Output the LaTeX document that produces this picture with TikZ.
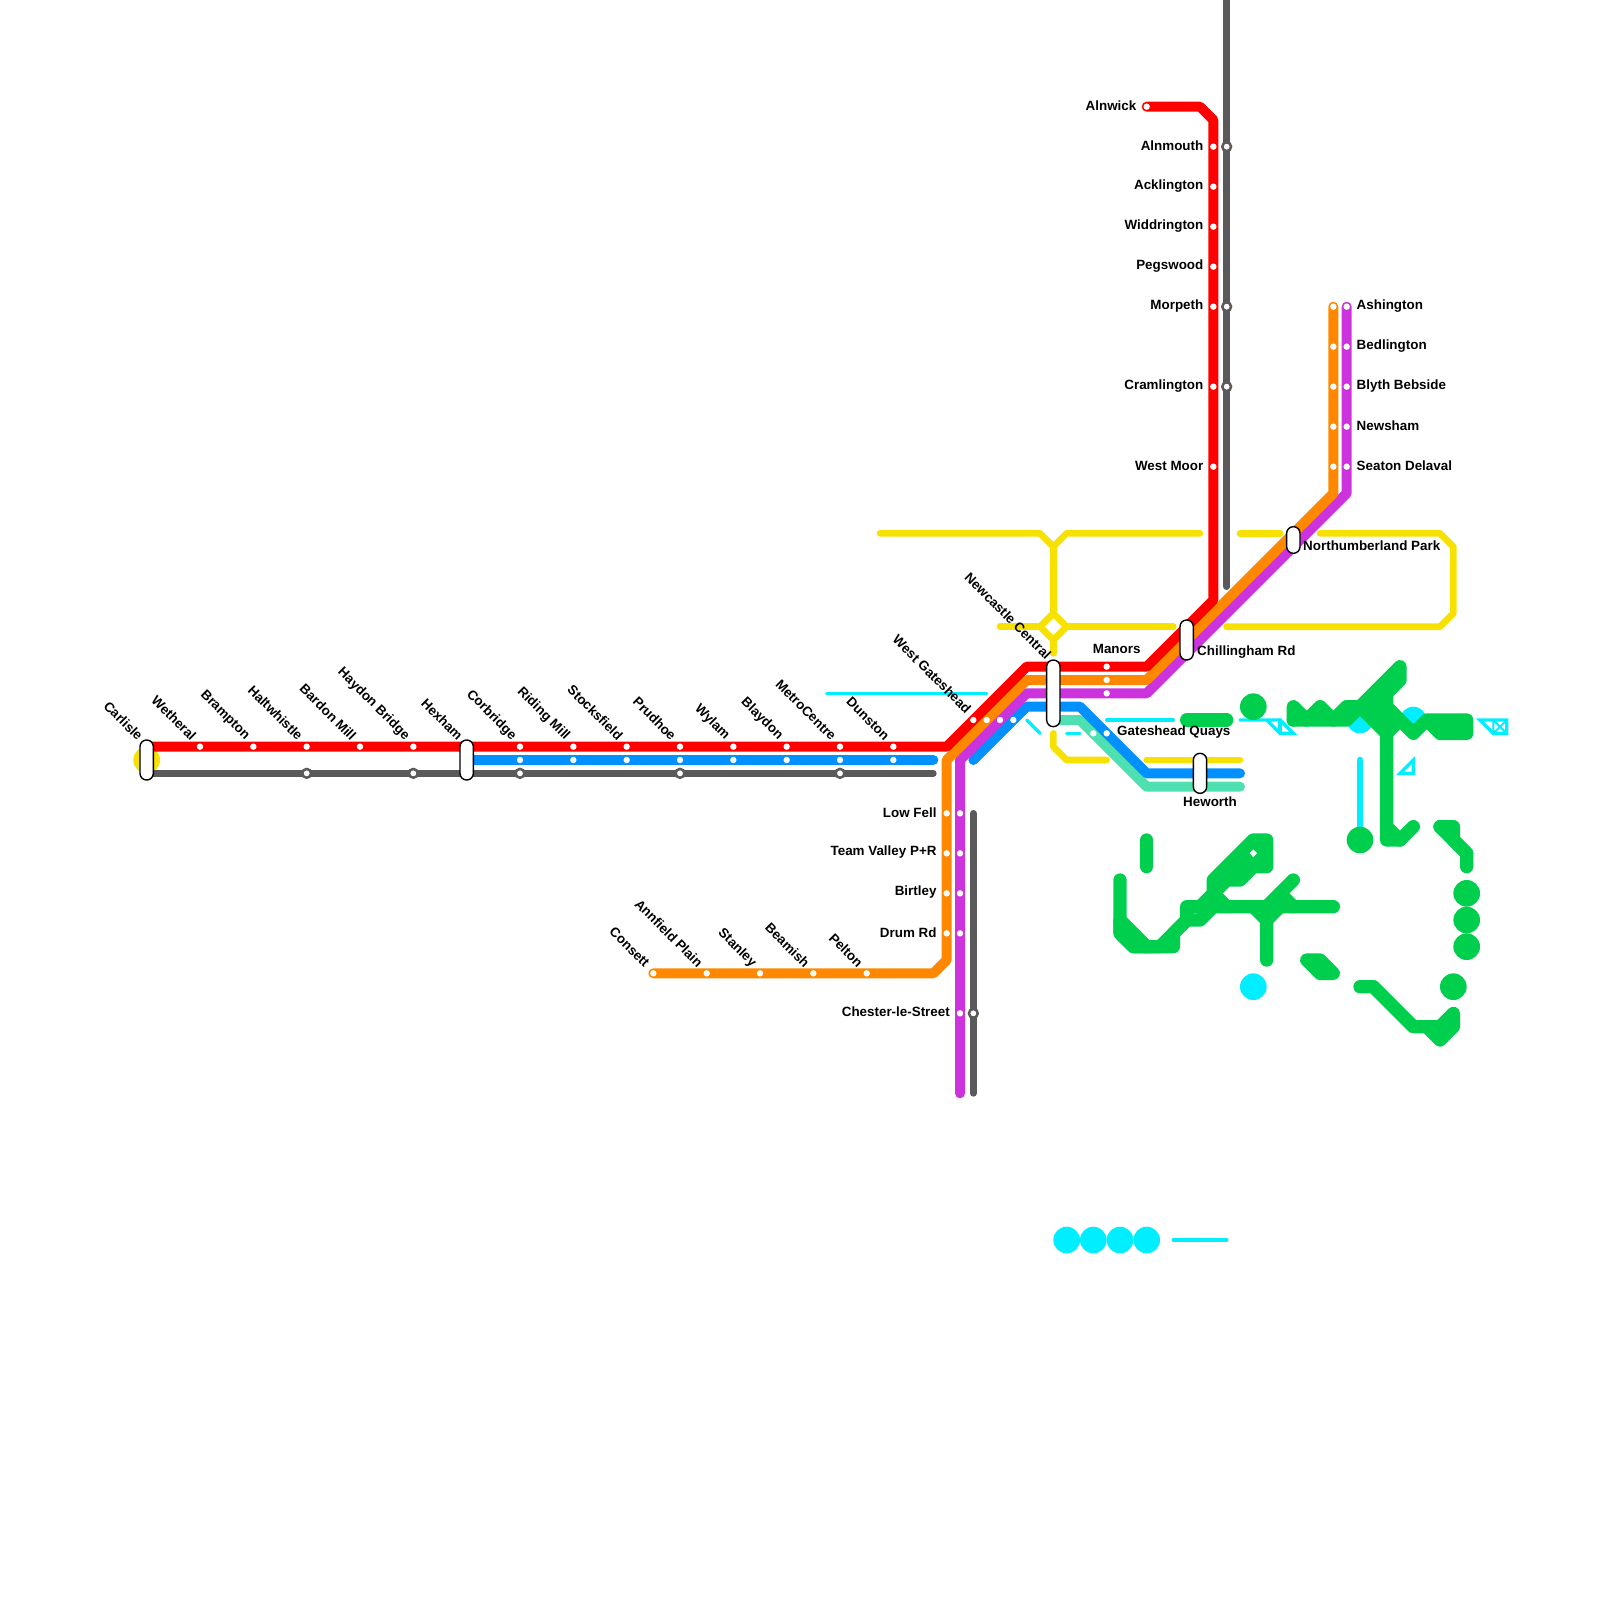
\documentclass[tikz,border=0pt]{standalone}
\usepackage{fontspec}
\setmainfont{Liberation Sans}
\tikzset{
  x=1pt,y=-1pt,
  ln/.style={line cap=round,line join=round,line width=10pt},
  tn/.style={line cap=round,line join=round,line width=6.67pt},
  hair/.style={cyanc,line cap=round,line join=miter,line width=3.33pt},
  gr/.style={greenc,line cap=round,line join=round,line width=13.33pt},
  dotw/.style={circle,fill=white,inner sep=0pt,minimum size=6.4pt},
  dotg/.style={circle,fill=white,draw=greyc,line width=2.5pt,inner sep=0pt,minimum size=8.8pt},
  pill/.style={draw=black,line width=1.4pt,fill=white,rounded corners=6.6pt},
  lab/.style={font=\fontsize{13.4}{15}\selectfont\bfseries,inner sep=0pt,text=black},
  rlab/.style={lab,anchor=east,rotate=-45},
  elab/.style={lab,anchor=east},
  wlab/.style={lab,anchor=west},
  blob/.style={circle,inner sep=0pt,minimum size=26.67pt},
}
\definecolor{redc}{HTML}{FF0000}
\definecolor{orangec}{HTML}{FF8800}
\definecolor{purplec}{HTML}{CC33DD}
\definecolor{bluec}{HTML}{0090FF}
\definecolor{greyc}{HTML}{5A5A5A}
\definecolor{yellowc}{HTML}{F7E100}
\definecolor{tealc}{HTML}{4FE0B2}
\definecolor{cyanc}{HTML}{00EEFF}
\definecolor{greenc}{HTML}{00CF4E}
\begin{document}
\begin{tikzpicture}
\useasboundingbox (0,0) rectangle (1600,1600);
% yellow
\node[blob,fill=yellowc] (ycirc) at (146.67,760) {};
\begin{scope}[tn,yellowc]
\draw (880,533.33) -- (1040,533.33) -- (1053.33,546.67) -- (1066.67,533.33) -- (1200,533.33);
\draw (1053.33,546.67) -- (1053.33,613.33);
\draw (1053.33,613.33) -- (1066.67,626.67) -- (1053.33,640) -- (1040,626.67) -- cycle;
\draw (1053.33,640) -- (1053.33,653.33);
\draw (1000,626.67) -- (1040,626.67);
\draw (1066.67,626.67) -- (1173.33,626.67);
\draw (1226.67,626.67) -- (1440,626.67) -- (1453.33,613.33) -- (1453.33,546.67) -- (1440,533.33) -- (1320,533.33);
\draw (1240,533.33) -- (1280,533.33);
\draw (1053.33,733.33) -- (1053.33,746.67) -- (1066.67,760) -- (1106.67,760);
\draw (1146.67,760) -- (1240,760);
\end{scope}
% cyan
\begin{scope}
\draw[hair] (826.67,693.33) -- (986.67,693.33);
\draw[hair] (1026.67,720) -- (1040,733.33);
\draw[hair] (1066.67,733.33) -- (1080,733.33);
\draw[hair] (1106.67,720) -- (1173.33,720);
\draw[hair] (1240,720) -- (1280,720) -- (1293.33,733.33) -- (1280,733.33) -- (1266.67,720);
\draw[hair] (1280,720) -- (1280,733.33);
\draw[hair] (1480,720) -- (1506.67,720) -- (1506.67,733.33) -- (1493.33,733.33) -- cycle;
\draw[hair,line width=2pt] (1493.33,720) -- (1493.33,733.33) (1493.33,720) -- (1506.67,733.33) (1506.67,720) -- (1493.33,733.33);
\draw[hair] (1413.33,760) -- (1413.33,773.33) -- (1400,773.33) -- cycle;
\draw[hair,line width=6.67pt] (1360,760) -- (1360,840);
\draw[hair] (1173.33,1240) -- (1226.67,1240);
\foreach \p [count=\i] in {(1360,720),(1413.33,720),(1253.33,986.67),(1066.67,1240),(1093.33,1240),(1120,1240),(1146.67,1240)}
  \node[blob,fill=cyanc] (cy\i) at \p {};
\end{scope}
% green
\foreach \p [count=\i] in {(1253.33,706.67),(1360,840),(1466.67,893.33),(1466.67,920),(1466.67,946.67),(1453.33,986.67)}
  \node[blob,fill=greenc] (gn\i) at \p {};
\begin{scope}
\draw[gr] (1186.67,720) -- (1226.67,720);
% upper right cluster
\draw[gr] (1293.33,720) -- (1293.33,706.67) -- (1306.67,720) -- (1320,706.67) -- (1333.33,720) -- (1346.67,706.67) -- (1360,706.67) -- (1400,666.67) -- (1400,680) -- (1386.67,693.33) -- (1386.67,840) -- (1400,840) -- (1413.33,826.67);
\draw[gr] (1386.67,826.67) -- (1400,840);
\draw[gr] (1293.33,720) -- (1346.67,720) -- (1360,706.67) -- (1386.67,733.33);
\fill[greenc] (1360,706.67) -- (1400,666.67) -- (1400,680) -- (1386.67,693.33) -- (1386.67,733.33) -- cycle;
\draw[gr] (1386.67,706.67) -- (1413.33,733.33) -- (1426.67,720) -- (1466.67,720) -- (1466.67,733.33) -- (1440,733.33) -- (1426.67,720);
\draw[gr] (1386.67,733.33) -- (1400,720);
\end{scope}
\begin{scope}
\draw[gr] (1146.67,840) -- (1146.67,866.67);
\draw[gr] (1120,880) -- (1120,933.33) -- (1133.33,946.67) -- (1173.33,946.67) -- (1173.33,933.33) -- (1186.67,920) -- (1186.67,906.67) -- (1333.33,906.67);
\draw[gr] (1120,920) -- (1146.67,946.67) -- (1160,946.67) -- (1186.67,920) -- (1200,920) -- (1213.33,906.67);
\fill[greenc] (1113.33,920) -- (1126.67,920) -- (1146.67,940) -- (1146.67,953.33) -- (1133.33,953.33) -- (1113.33,933.33) -- cycle;
\draw[gr] (1213.33,893.33) -- (1213.33,880) -- (1253.33,840) -- (1266.67,840) -- (1266.67,866.67) -- (1253.33,866.67) -- (1240,880) -- (1226.67,880) -- (1200,906.67);
\fill[greenc] (1213.33,880) -- (1253.33,840) -- (1266.67,866.67) -- (1240,880) -- cycle;
\fill[greenc] (1253.33,840) -- (1266.67,840) -- (1266.67,866.67) -- (1253.33,866.67) -- cycle;
\draw[gr] (1213.33,893.33) -- (1226.67,906.67);
\draw[gr] (1293.33,880) -- (1266.67,906.67) -- (1266.67,960);
\draw[gr] (1280,893.33) -- (1293.33,906.67);
\draw[gr] (1253.33,906.67) -- (1266.67,920) -- (1280,906.67);
\draw[gr] (1306.67,960) -- (1320,960) -- (1333.33,973.33) -- (1320,973.33) -- cycle;
\fill[greenc] (1306.67,960) -- (1320,960) -- (1333.33,973.33) -- (1320,973.33) -- cycle;
\draw[gr] (1360,986.67) -- (1373.33,986.67) -- (1413.33,1026.67) -- (1440,1026.67) -- (1453.33,1013.33) -- (1453.33,1026.67) -- (1440,1040) -- (1426.67,1026.67);
\draw[gr] (1440,826.67) -- (1453.33,826.67) -- (1453.33,840) -- (1466.67,853.33) -- (1466.67,866.67);
\draw[gr] (1440,826.67) -- (1466.67,853.33);
\fill[white] (1253.33,849.6) -- (1257.1,853.33) -- (1253.33,857.1) -- (1249.6,853.33) -- cycle;
\end{scope}
% main lines
\draw[tn,greyc] (1226.67,-10) -- (1226.67,586.67);
\draw[tn,greyc] (146.67,773.33) -- (933.33,773.33);
\draw[tn,greyc] (973.33,813.33) -- (973.33,1093.33);
\draw[ln,bluec] (466.67,760) -- (933.33,760);
\draw[ln,tealc] (1053.33,720) -- (1080,720) -- (1146.67,786.67) -- (1240,786.67);
\draw[ln,bluec] (973.33,760) -- (1026.67,706.67) -- (1080,706.67) -- (1146.67,773.33) -- (1240,773.33);
\draw[ln,purplec] (1346.67,306.67) -- (1346.67,493.33) -- (1146.67,693.33) -- (1026.67,693.33) -- (960,760) -- (960,1093.33);
\draw[ln,orangec] (1333.33,306.67) -- (1333.33,493.33) -- (1146.67,680) -- (1026.67,680) -- (946.67,760) -- (946.67,960) -- (933.33,973.33) -- (653.33,973.33);
\draw[ln,redc] (146.67,746.67) -- (946.67,746.67) -- (1026.67,666.67) -- (1146.67,666.67) -- (1213.33,600) -- (1213.33,120) -- (1200,106.67) -- (1146.67,106.67);
% stops
\foreach \x [count=\i] in {200,253.33,306.67,360,413.33,520,573.33,626.67,680,733.33,786.67,840,893.33}
  \node[dotw] (sr\i) at (\x,746.67) {};
\foreach \x [count=\i] in {520,573.33,626.67,680,733.33,786.67,840,893.33}
  \node[dotw] (sb\i) at (\x,760) {};
\foreach \x [count=\i] in {306.67,413.33,520,680,840}
  \node[dotg] (sg\i) at (\x,773.33) {};
\foreach \x [count=\i] in {973.33,986.67,1000,1013.33}
  \node[dotw] (swg\i) at (\x,720) {};
\foreach \y [count=\i] in {666.67,680,693.33}
  \node[dotw] (sm\i) at (1106.67,\y) {};
\foreach \x [count=\i] in {1093.33,1106.67}
  \node[dotw] (sq\i) at (\x,733.33) {};
\node[dotw] (salnwick) at (1146.67,106.67) {};
\foreach \y [count=\i] in {146.67,186.67,226.67,266.67,306.67,386.67,466.67}
  \node[dotw] (sn\i) at (1213.33,\y) {};
\foreach \y [count=\i] in {146.67,306.67,386.67}
  \node[dotg] (sgn\i) at (1226.67,\y) {};
\foreach \y [count=\i] in {306.67,346.67,386.67,426.67,466.67} {
  \node[dotw] (soa\i) at (1333.33,\y) {};
  \node[dotw] (spa\i) at (1346.67,\y) {};
}
\foreach \y [count=\i] in {813.33,853.33,893.33,933.33} {
  \node[dotw] (sos\i) at (946.67,\y) {};
  \node[dotw] (sps\i) at (960,\y) {};
}
\node[dotw] (scp) at (960,1013.33) {};
\node[dotg] (scg) at (973.33,1013.33) {};
\foreach \x [count=\i] in {653.33,706.67,760,813.33,866.67}
  \node[dotw] (sc\i) at (\x,973.33) {};
% interchanges
\draw[pill] (140,740) rectangle (153.33,780);
\draw[pill] (460,740) rectangle (473.33,780);
\draw[pill] (1046.67,660) rectangle (1060,726.67);
\draw[pill] (1180,620) rectangle (1193.33,660);
\draw[pill] (1286.67,526.67) rectangle (1300,553.33);
\draw[pill] (1193.33,753.33) rectangle (1206.67,793.33);
% rotated labels
\foreach \x/\t [count=\i] in {146.67/Carlisle,200/Wetheral,253.33/Brampton,306.67/Haltwhistle,360/Bardon Mill,413.33/Haydon Bridge,466.67/Hexham,520/Corbridge,573.33/Riding Mill,626.67/Stocksfield,680/Prudhoe,733.33/Wylam,786.67/Blaydon,840/MetroCentre,893.33/Dunston}
  \node[rlab] (lw\i) at (\x-6,738) {\t};
\foreach \x/\t [count=\i] in {653.33/Consett,706.67/Annfield Plain,760/Stanley,813.33/Beamish,866.67/Pelton}
  \node[rlab] (lc\i) at (\x-6,965) {\t};
\node[rlab] (wg) at (969,711) {West Gateshead};
\node[rlab] (nc) at (1049,657) {Newcastle Central};
% horizontal labels
\node[elab] (alnwick) at (1136.5,105.7) {Alnwick};
\foreach \y/\t [count=\i] in {146.67/Alnmouth,186.67/Acklington,226.67/Widdrington,266.67/Pegswood,306.67/Morpeth,386.67/Cramlington,466.67/West Moor}
  \node[elab] (ln\i) at (1203.5,\y-1) {\t};
\foreach \y/\t [count=\i] in {306.67/Ashington,346.67/Bedlington,386.67/Blyth Bebside,426.67/Newsham,466.67/Seaton Delaval}
  \node[wlab] (la\i) at (1356.5,\y-1) {\t};
\foreach \y/\t [count=\i] in {813.33/Low Fell,853.33/Team Valley P+R,893.33/Birtley,933.33/Drum Rd}
  \node[elab] (ls\i) at (936.7,\y-1) {\t};
\node[elab] (cls) at (950,1012) {Chester-le-Street};
\node[wlab] (np) at (1303,546) {Northumberland Park};
\node[wlab] (cr) at (1197,652) {Chillingham Rd};
\node[lab] (man) at (1116.67,648.5) {Manors};
\node[wlab] (gq) at (1117,732) {Gateshead Quays};
\node[lab] (hew) at (1210,801.7) {Heworth};
\end{tikzpicture}
\end{document}
